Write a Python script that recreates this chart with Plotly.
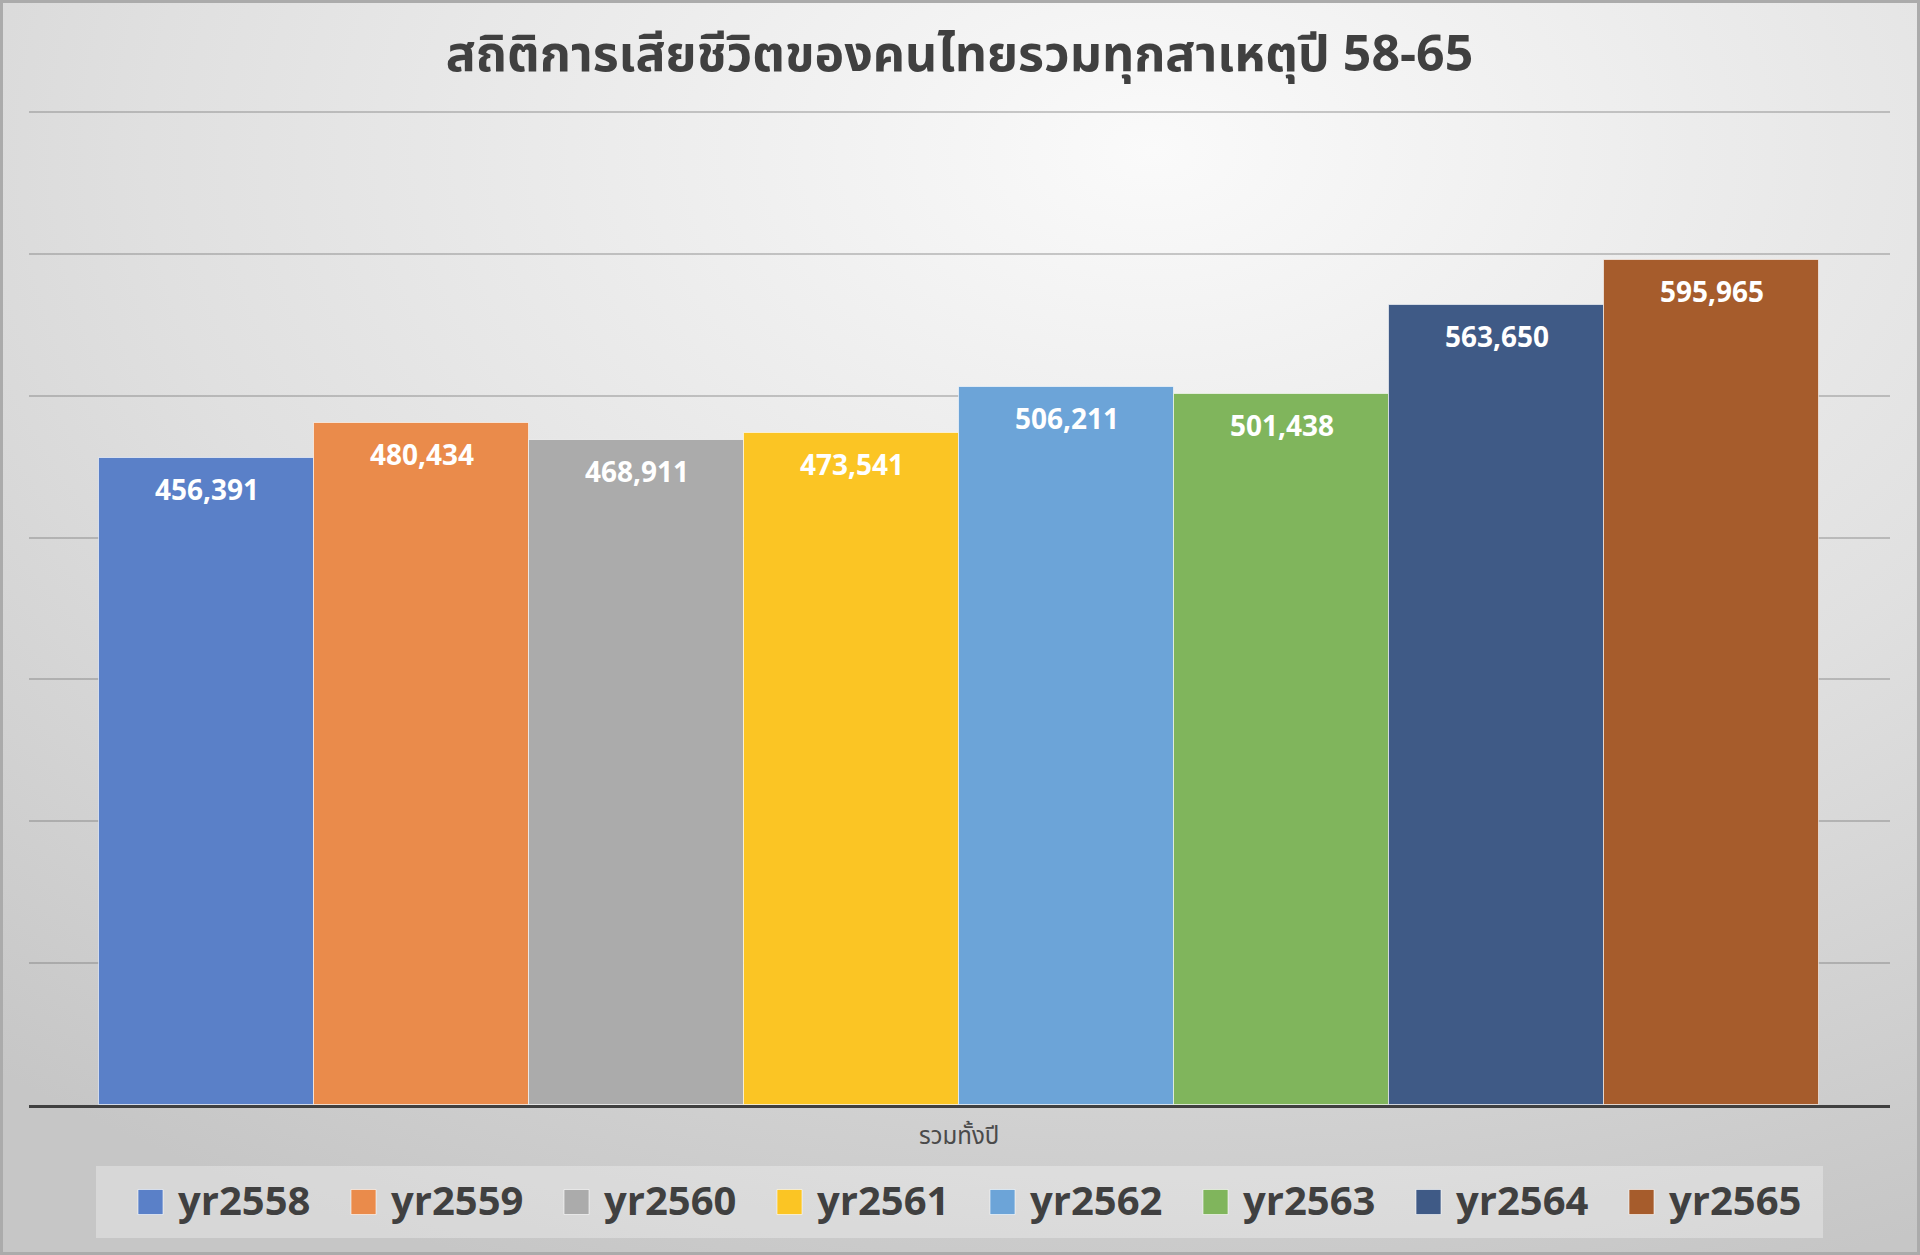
import base64
import plotly.graph_objects as go

# ---- data ----
title_text = "สถิติการเสียชีวิตของคนไทยรวมทุกสาเหตุปี 58-65"
category_label = "รวมทั้งปี"
series_names = ["yr2558", "yr2559", "yr2560", "yr2561",
                "yr2562", "yr2563", "yr2564", "yr2565"]
deaths = [456391, 480434, 468911, 473541, 506211, 501438, 563650, 595965]
bar_colors = ["#5A80C8", "#EA8B4B", "#ABABAB", "#FBC524",
              "#6CA4D8", "#80B55C", "#3F5A86", "#A65C2C"]

# ---- geometry (pixels) ----
W, H = 1920, 1255
M_L, M_R, M_T, M_B = 29, 30, 100, 150
PW, PH = W - M_L - M_R, H - M_T - M_B

def px_x(px):
    return (px - M_L) / PW

def px_y(py):
    return 1 - (py - M_T) / PH

FONT = "Open Sans, Noto Sans Thai, Leelawadee UI, sans-serif"
TXT = "#404040"

fig = go.Figure()
for i, (name, v, c) in enumerate(zip(series_names, deaths, bar_colors)):
    fig.add_trace(go.Bar(
        x=[i], y=[v], width=1, name=name,
        marker=dict(color=c, line=dict(color="rgba(255,255,255,0.6)", width=1)),
        showlegend=False, hoverinfo="name+y",
    ))
    fig.add_annotation(
        x=i, y=v, xref="x", yref="y", yshift=-31, showarrow=False,
        text=f"{v:,}", font=dict(family=FONT, size=28, color="white", weight="bold"),
    )

# soft radial background
svg = (
    '<svg xmlns="http://www.w3.org/2000/svg" width="1920" height="1255">'
    '<defs><radialGradient id="g" cx="0.6" cy="0.12" r="0.95" fx="0.6" fy="0.12">'
    '<stop offset="0" stop-color="#fafafa"/><stop offset="0.55" stop-color="#e0e0e0"/>'
    '<stop offset="1" stop-color="#c6c6c6"/></radialGradient></defs>'
    '<rect width="1920" height="1255" fill="url(#g)"/></svg>'
)
bg_src = "data:image/svg+xml;base64," + base64.b64encode(svg.encode()).decode()
fig.add_layout_image(
    source=bg_src, xref="paper", yref="paper",
    x=px_x(0), y=px_y(0), sizex=W / PW, sizey=H / PH,
    xanchor="left", yanchor="top", sizing="stretch", layer="below",
)

# outer frame
fig.add_shape(type="rect", xref="paper", yref="paper",
              x0=px_x(1.5), x1=px_x(W - 1.5), y0=px_y(H - 1.5), y1=px_y(1.5),
              line=dict(color="#ababab", width=3), layer="above")

# legend panel drawn with swatches and labels
LEG_X0, LEG_X1, LEG_Y0, LEG_Y1 = 96, 1823, 1166, 1238
fig.add_shape(type="rect", xref="paper", yref="paper",
              x0=px_x(LEG_X0), x1=px_x(LEG_X1), y0=px_y(LEG_Y1), y1=px_y(LEG_Y0),
              fillcolor="rgba(255,255,255,0.3)", line=dict(width=0), layer="below")
leg_cy = 1202
for i, (name, c) in enumerate(zip(series_names, bar_colors)):
    cx = 150.5 + i * 213
    fig.add_shape(type="rect", xref="paper", yref="paper",
                  x0=px_x(cx - 12.5), x1=px_x(cx + 12.5),
                  y0=px_y(leg_cy + 12.5), y1=px_y(leg_cy - 12.5),
                  fillcolor=c, line=dict(color="rgba(255,255,255,0.6)", width=1))
    fig.add_annotation(
        x=px_x(cx + 25), y=px_y(leg_cy - 3), xref="paper", yref="paper",
        xanchor="left", yanchor="middle", showarrow=False, text=name,
        font=dict(family=FONT, size=40, color=TXT, weight="bold"),
    )

fig.update_layout(
    width=W, height=H,
    margin=dict(l=M_L, r=M_R, t=M_T, b=M_B, pad=0),
    paper_bgcolor="#d8d8d8", plot_bgcolor="rgba(0,0,0,0)",
    title=dict(text=title_text, x=0.5, xref="paper", xanchor="center",
               y=1 - 53 / H, yanchor="middle",
               font=dict(family=FONT, size=50, color=TXT, weight="bold")),
    showlegend=False,
    bargap=0,
    xaxis=dict(range=[-0.827, 7.83], tickvals=[3.5], ticktext=[category_label],
               showgrid=False, zeroline=False, showline=True, linecolor="#404040",
               linewidth=3, ticks="", ticklabelstandoff=7,
               tickfont=dict(family=FONT, size=24, color="#4a4a4a")),
    yaxis=dict(range=[0, 708400], dtick=100000, showticklabels=False,
               gridcolor="rgba(110,110,110,0.35)", gridwidth=2, zeroline=False,
               showline=False, ticks=""),
)

fig.write_html("out.html")
